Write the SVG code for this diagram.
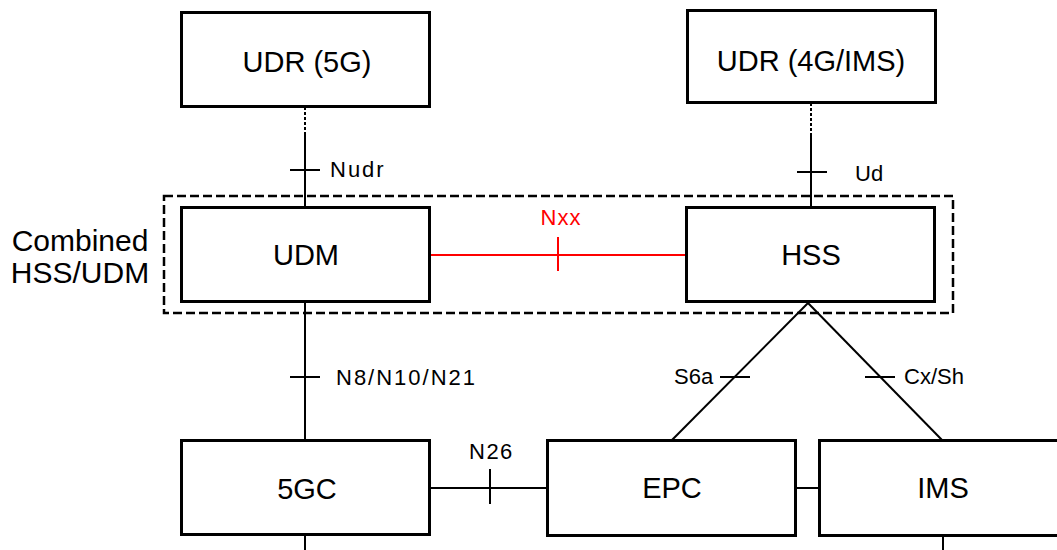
<svg xmlns="http://www.w3.org/2000/svg" width="1057" height="550" viewBox="0 0 1057 550">
<style>
.box{fill:#fff;stroke:#000;stroke-width:3}
.lbl{font-family:"Liberation Sans",Arial,sans-serif;font-size:29px;fill:#000;text-anchor:middle}
.sm{font-family:"Liberation Sans",Arial,sans-serif;font-size:22px;fill:#000}
.ln{stroke:#000;stroke-width:2;fill:none}
.dot{stroke:#000;stroke-width:2;stroke-dasharray:3 2;fill:none}
.red{stroke:#f00;stroke-width:2;fill:none}
</style>
<rect width="1057" height="550" fill="#fff"/>
<g id="container">
<rect x="164" y="196" width="789" height="117" fill="none" stroke="#000" stroke-width="2.5" stroke-dasharray="9 4"/>
<text class="lbl" style="font-size:30px"><tspan x="80" y="251">Combined</tspan><tspan x="80" y="283">HSS/UDM</tspan></text>
</g>
<g id="connectors">
<line class="dot" x1="305" y1="107" x2="305" y2="132"/>
<line class="ln" x1="305" y1="132" x2="305" y2="207"/>
<line class="ln" x1="290" y1="170" x2="320" y2="170"/>
<text class="sm" x="330" y="177" letter-spacing="2">Nudr</text>
<line class="dot" x1="811" y1="103" x2="811" y2="133"/>
<line class="ln" x1="811" y1="133" x2="811" y2="207"/>
<line class="ln" x1="797" y1="172" x2="827" y2="172"/>
<text class="sm" x="855" y="181">Ud</text>
<line class="red" x1="430" y1="255" x2="686" y2="255"/>
<line class="red" x1="558" y1="237" x2="558" y2="271"/>
<text class="sm" x="561" y="225" style="fill:#f00;text-anchor:middle" letter-spacing="1">Nxx</text>
<line class="ln" x1="305" y1="302" x2="305" y2="440"/>
<line class="ln" x1="290" y1="377" x2="320" y2="377"/>
<text class="sm" x="336" y="385" letter-spacing="2">N8/N10/N21</text>
<line class="ln" x1="305" y1="535" x2="305" y2="550"/>
<line class="ln" x1="429" y1="488" x2="547" y2="488"/>
<line class="ln" x1="490" y1="469" x2="490" y2="504"/>
<text class="sm" x="469" y="459" letter-spacing="1.5">N26</text>
<line class="ln" x1="808" y1="303" x2="672" y2="440"/>
<line class="ln" x1="720" y1="377" x2="750" y2="377"/>
<text class="sm" x="674" y="384">S6a</text>
<line class="ln" x1="808" y1="303" x2="942" y2="440"/>
<line class="ln" x1="865" y1="377" x2="895" y2="377"/>
<text class="sm" x="904" y="384">Cx/Sh</text>
<line class="ln" x1="795" y1="488" x2="819" y2="488"/>
<line class="ln" x1="943" y1="536" x2="943" y2="550"/>
</g>
<g id="udr5g"><rect class="box" x="181.5" y="12.5" width="248" height="94"/><text class="lbl" x="307" y="72">UDR (5G)</text></g>
<g id="udr4g"><rect class="box" x="687.5" y="10.5" width="248" height="92"/><text class="lbl" x="811" y="71">UDR (4G/IMS)</text></g>
<g id="udm"><rect class="box" x="181.5" y="207.5" width="248" height="94"/><text class="lbl" x="306" y="265">UDM</text></g>
<g id="hss"><rect class="box" x="686.5" y="207.5" width="248" height="94"/><text class="lbl" x="811" y="265">HSS</text></g>
<g id="5gc"><rect class="box" x="181.5" y="440.5" width="248" height="94"/><text class="lbl" x="307" y="499">5GC</text></g>
<g id="epc"><rect class="box" x="547.5" y="440.5" width="248" height="95"/><text class="lbl" x="672" y="498">EPC</text></g>
<g id="ims"><rect class="box" x="819.5" y="440.5" width="250" height="95"/><text class="lbl" x="943" y="498">IMS</text></g>
</svg>
